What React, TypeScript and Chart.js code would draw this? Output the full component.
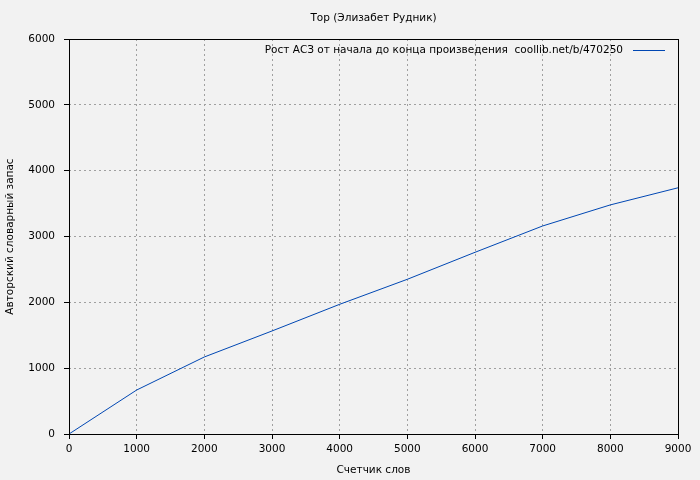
import React, { useEffect, useRef } from "react";
import { Chart, registerables } from "chart.js";

Chart.register(...registerables);

const chartTitle = "Тор (Элизабет Рудник)";
const seriesLabel = "Рост АСЗ от начала до конца произведения  coollib.net/b/470250";
const xAxisTitle = "Счетчик слов";
const yAxisTitle = "Авторский словарный запас";

const wordCounts = [0, 1000, 2000, 3000, 4000, 5000, 6000, 7000, 8000, 9000];
const vocabulary = [0, 668, 1170, 1565, 1970, 2350, 2760, 3160, 3480, 3740];

const FONT = "'DejaVu Sans', sans-serif";
const FSIZE = 10.5;
const LINE_COLOR = "#0047b3";

const framePlugin = {
  id: "frame",
  beforeDraw(chart: any) {
    const ctx = chart.ctx;
    ctx.save();
    ctx.fillStyle = "#f2f2f2";
    ctx.fillRect(0, 0, chart.width, chart.height);
    ctx.restore();
  },
  afterDraw(chart: any) {
    const ctx = chart.ctx;
    const { left, top, right, bottom } = chart.chartArea;
    ctx.save();
    ctx.strokeStyle = "#000";
    ctx.lineWidth = 1;
    ctx.strokeRect(Math.round(left) + 0.5, Math.round(top) + 0.5, Math.round(right - left), Math.round(bottom - top));
    // title
    ctx.fillStyle = "#000";
    ctx.font = FSIZE + "px " + FONT;
    ctx.textAlign = "center";
    ctx.textBaseline = "middle";
    ctx.fillText(chartTitle, (left + right) / 2, 18);
    // legend
    ctx.textAlign = "right";
    ctx.fillText(seriesLabel, right - 55, top + 11);
    ctx.strokeStyle = LINE_COLOR;
    ctx.beginPath();
    ctx.moveTo(right - 45, top + 11.5);
    ctx.lineTo(right - 13, top + 11.5);
    ctx.stroke();
    ctx.restore();
  },
};

export default function App() {
  const ref = useRef<HTMLCanvasElement | null>(null);
  useEffect(() => {
    if (!ref.current) return;
    const points = wordCounts.map((x, i) => ({ x, y: vocabulary[i] }));
    const chart = new Chart(ref.current, {
      type: "line",
      data: {
        datasets: [
          {
            label: seriesLabel,
            data: points,
            borderColor: LINE_COLOR,
            borderWidth: 1,
            pointRadius: 0,
            fill: false,
            tension: 0,
          },
        ],
      },
      options: {
        responsive: false,
        animation: false,
        layout: { padding: { top: 39, right: 22, left: 0, bottom: 0 } },
        plugins: {
          legend: { display: false },
          title: { display: false },
          tooltip: { enabled: false },
        },
        scales: {
          x: {
            type: "linear",
            min: 0,
            max: 9000,
            afterFit: (s: any) => { s.height = 46; },
            ticks: {
              stepSize: 1000,
              color: "#000",
              font: { family: FONT, size: FSIZE },
              padding: 4,
              maxRotation: 0,
              callback: (v: any) => String(v),
            },
            grid: {
              color: "#a0a0a0",
              borderDash: [2, 3],
              tickColor: "#000",
              tickBorderDash: [],
              tickLength: 5,
            },
            border: { display: false, dash: [2, 3] },
            title: {
              display: true,
              text: xAxisTitle,
              color: "#000",
              font: { family: FONT, size: FSIZE },
              padding: { top: 0, bottom: 3 },
            },
          } as any,
          y: {
            type: "linear",
            min: 0,
            max: 6000,
            afterFit: (s: any) => { s.width = 69; },
            ticks: {
              stepSize: 1000,
              color: "#000",
              font: { family: FONT, size: FSIZE },
              padding: 9,
              callback: (v: any) => String(v),
            },
            grid: {
              color: "#a0a0a0",
              tickColor: "#000",
              tickBorderDash: [],
              tickLength: 5,
            },
            border: { display: false, dash: [2, 3] },
            title: {
              display: true,
              text: yAxisTitle,
              color: "#000",
              font: { family: FONT, size: FSIZE },
              padding: { top: 4, bottom: 0 },
            },
          } as any,
        },
      },
      plugins: [framePlugin],
    });
    return () => chart.destroy();
  }, []);
  return (
    <div style={{ position: "fixed", left: 0, top: 0, width: 700, height: 480 }}>
      <canvas ref={ref} width={700} height={480} />
    </div>
  );
}
